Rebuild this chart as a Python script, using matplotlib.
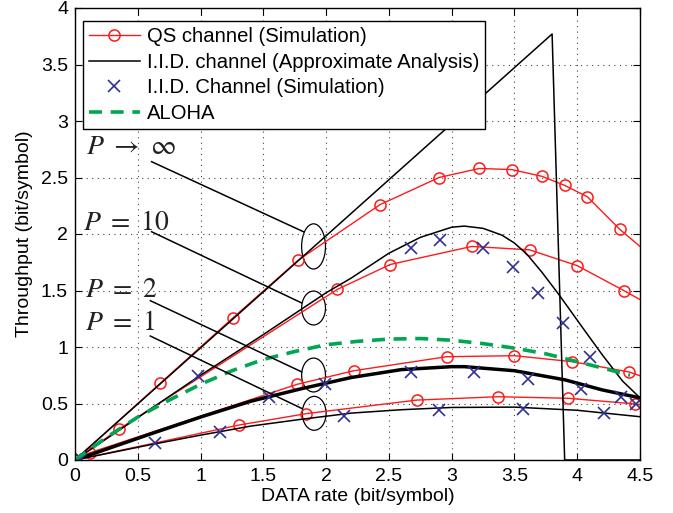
import matplotlib
matplotlib.use("Agg")
import matplotlib.pyplot as plt
from matplotlib.patches import Ellipse

plt.rcParams['font.family'] = ['Liberation Sans', 'DejaVu Sans']
plt.rcParams['mathtext.fontset'] = 'stix'

# ---------------- data ----------------
# QS channel (Simulation), red circles
qs_inf_x = [0, 0.68, 1.26, 1.78, 2.43, 2.90, 3.22, 3.48, 3.72, 3.90, 4.08, 4.34, 4.5]
qs_inf_y = [0, 0.68, 1.26, 1.77, 2.26, 2.50, 2.58, 2.57, 2.51, 2.43, 2.33, 2.04, 1.89]
qs10_x = [0, 0.35, 2.09, 2.51, 3.16, 3.62, 4.00, 4.37, 4.5]
qs10_y = [0, 0.274, 1.51, 1.73, 1.89, 1.86, 1.72, 1.50, 1.42]
qs2_x = [0, 0.12, 1.77, 2.22, 2.96, 3.50, 3.96, 4.41, 4.5]
qs2_y = [0, 0.065, 0.67, 0.79, 0.914, 0.923, 0.87, 0.78, 0.746]
qs1_x = [0, 1.31, 1.84, 2.72, 3.37, 3.93, 4.46, 4.5]
qs1_y = [0, 0.31, 0.41, 0.53, 0.56, 0.546, 0.496, 0.49]

# I.I.D. channel (Approximate Analysis), black lines
an_inf_x = [0, 3.8, 3.9, 4.5]
an_inf_y = [0, 3.77, 0, 0]
an10_x = [0, 0.5, 1.0, 1.5, 2.0, 2.2, 2.5, 2.75, 3.0, 3.1, 3.25, 3.4, 3.5, 3.6, 3.72, 3.85, 4.05, 4.2, 4.36, 4.5]
an10_y = [0, 0.375, 0.75, 1.11, 1.48, 1.61, 1.83, 1.97, 2.06, 2.07, 2.05, 1.99, 1.92, 1.82, 1.66, 1.47, 1.16, 0.93, 0.70, 0.55]
an2_x = [0, 0.6, 1.0, 1.4, 1.8, 2.2, 2.6, 3.0, 3.1, 3.5, 3.9, 4.2, 4.5]
an2_y = [0, 0.23, 0.38, 0.52, 0.63, 0.73, 0.80, 0.826, 0.826, 0.79, 0.71, 0.62, 0.55]
an1_x = [0, 0.6, 1.0, 1.4, 1.8, 2.2, 2.6, 3.0, 3.5, 4.0, 4.5]
an1_y = [0, 0.135, 0.22, 0.30, 0.36, 0.415, 0.445, 0.465, 0.468, 0.44, 0.383]

# I.I.D. Channel (Simulation), blue crosses
iid10_x = [0, 0.98, 2.675, 2.91, 3.25, 3.49, 3.69, 3.89, 4.10, 4.35]
iid10_y = [0, 0.74, 1.88, 1.95, 1.88, 1.71, 1.475, 1.215, 0.91, 0.56]
iid2_x = [0.05, 1.545, 1.99, 2.68, 3.18, 3.61, 4.03, 4.47]
iid2_y = [0.01, 0.56, 0.67, 0.78, 0.78, 0.72, 0.63, 0.50]
iid1_x = [0, 0.64, 1.155, 2.14, 2.90, 3.57, 4.21]
iid1_y = [0, 0.147, 0.25, 0.39, 0.44, 0.45, 0.42]

# ALOHA, green dashed
aloha_x = [0, 0.25, 0.5, 0.75, 1.0, 1.25, 1.5, 1.75, 2.0, 2.25, 2.5, 2.75, 3.0, 3.25, 3.5, 3.75, 4.0, 4.25, 4.42]
aloha_y = [0, 0.20, 0.38, 0.53, 0.67, 0.79, 0.89, 0.96, 1.02, 1.05, 1.07, 1.075, 1.06, 1.03, 0.99, 0.94, 0.87, 0.80, 0.75]

# annotations: label text, text anchor, line start, line end, ellipse centre/height
ann_labels = [r'$P\ \rightarrow\ \infty$', r'$P\ =\ 10$', r'$P\ =\ 2$', r'$P\ =\ 1$']
ann_text_xy = [(0.09, 2.71), (0.066, 2.035), (0.08, 1.445), (0.08, 1.15)]
ann_line_start = [(0.61, 2.64), (0.61, 2.02), (0.60, 1.41), (0.60, 1.097)]
ann_line_end = [(1.82, 2.02), (1.805, 1.39), (1.805, 0.78), (1.805, 0.457)]
ell_center = [(1.90, 1.89), (1.90, 1.345), (1.90, 0.752), (1.905, 0.413)]
ell_height = [0.40, 0.30, 0.30, 0.30]
ell_width = 0.19

x_ticks = [0, 0.5, 1, 1.5, 2, 2.5, 3, 3.5, 4, 4.5]
x_ticklabels = ['0', '0.5', '1', '1.5', '2', '2.5', '3', '3.5', '4', '4.5']
y_ticks = [0, 0.5, 1, 1.5, 2, 2.5, 3, 3.5, 4]
y_ticklabels = ['0', '0.5', '1', '1.5', '2', '2.5', '3', '3.5', '4']

# ---------------- plot ----------------
RED = '#ff1a1a'
BLUE = '#2e3192'
GREEN = '#00a650'

fig = plt.figure(figsize=(6.73, 5.13), dpi=100)
ax = fig.add_axes([75/673, 1-460/513, 565/673, 452/513])

qs_kw = dict(color=RED, lw=1.0, marker='o', ms=8, mfc='none', mec=RED, mew=1.1)
h_qs, = ax.plot(qs_inf_x, qs_inf_y, markevery=list(range(len(qs_inf_x)-1)), label='QS channel (Simulation)', **qs_kw)
ax.plot(qs10_x, qs10_y, markevery=list(range(len(qs10_x)-1)), **qs_kw)
ax.plot(qs2_x, qs2_y, markevery=list(range(len(qs2_x)-1)), **qs_kw)
ax.plot(qs1_x, qs1_y, markevery=list(range(len(qs1_x)-1)), **qs_kw)

h_an, = ax.plot(an_inf_x, an_inf_y, color='black', lw=1.1, label='I.I.D. channel (Approximate Analysis)')
ax.plot(an10_x, an10_y, color='black', lw=1.1)
ax.plot(an2_x, an2_y, color='black', lw=2.5)
ax.plot(an1_x, an1_y, color='black', lw=1.1)

x_kw = dict(ls='none', marker='x', ms=9, mew=1.2, color=BLUE)
h_iid, = ax.plot(iid10_x, iid10_y, label='I.I.D. Channel (Simulation)', **x_kw)
ax.plot(iid2_x, iid2_y, **x_kw)
ax.plot(iid1_x, iid1_y, **x_kw)

h_al, = ax.plot(aloha_x, aloha_y, color=GREEN, lw=2.6, ls=(0, (3.6, 2.4)), label='ALOHA')

for lab, txy, ls, le, ec, eh in zip(ann_labels, ann_text_xy, ann_line_start, ann_line_end, ell_center, ell_height):
    ax.text(txy[0], txy[1], lab, fontsize=20, ha='left', va='baseline', color='#222222')
    ax.plot([ls[0], le[0]], [ls[1], le[1]], color='black', lw=1.1)
    ax.add_patch(Ellipse(ec, ell_width, eh, fill=False, ec='black', lw=0.9))

ax.set_xlim(0, 4.5)
ax.set_ylim(0, 4)
ax.set_xticks(x_ticks)
ax.set_xticklabels(x_ticklabels)
ax.set_yticks(y_ticks)
ax.set_yticklabels(y_ticklabels)
ax.tick_params(direction='in', top=True, right=True, length=5, width=0.8, labelsize=14)
ax.tick_params(axis='x', pad=6)
ax.tick_params(axis='y', pad=5)
ax.grid(True, color='#444444', ls=(0, (1, 4)), lw=0.8)
for s in ax.spines.values():
    s.set_linewidth(1.0)

ax.set_xlabel('DATA rate (bit/symbol)', fontsize=14, labelpad=2)
ax.set_ylabel('Throughput (bit/symbol)', fontsize=14, labelpad=6)

leg = ax.legend(handles=[h_qs, h_an, h_iid, h_al], loc='upper left',
                bbox_to_anchor=(8/565, 1-13/452), fontsize=14.6, frameon=True,
                fancybox=False, edgecolor='black', framealpha=1,
                handlelength=2.5, handletextpad=0.35, labelspacing=0.33,
                borderpad=0.3, borderaxespad=0)
leg.get_frame().set_linewidth(1.0)

fig.savefig('out.png', dpi=100)
